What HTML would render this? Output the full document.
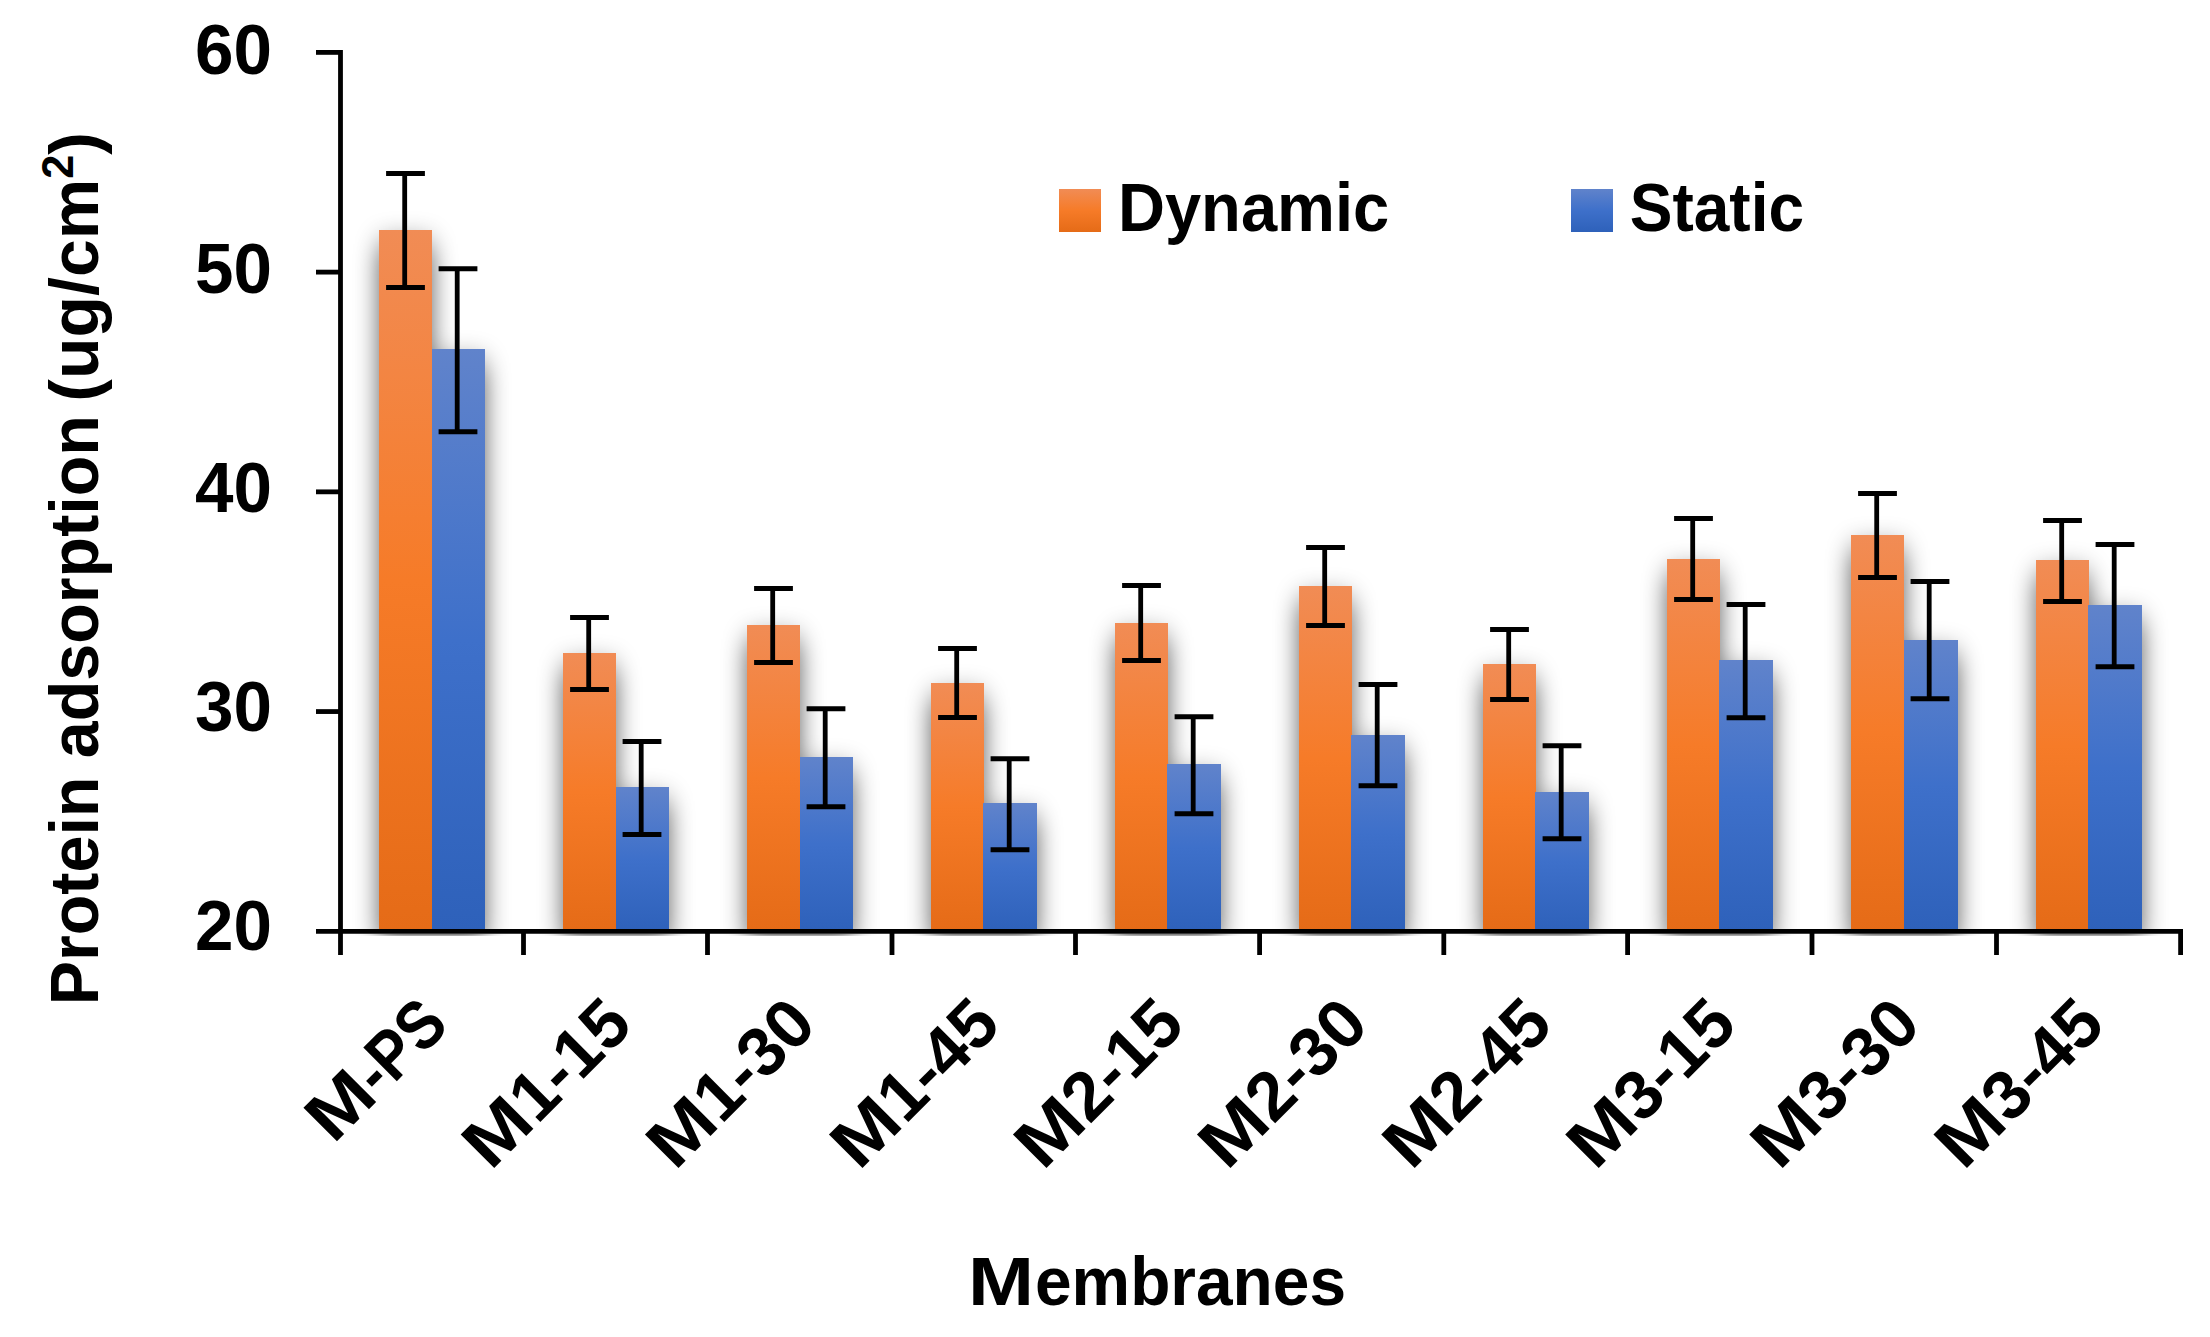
<!DOCTYPE html>
<html lang="en"><head><meta charset="utf-8"><title>Protein adsorption of membranes</title>
<style>
html,body{margin:0;padding:0;background:#fff;}
body{width:2210px;height:1337px;overflow:hidden;}
svg{display:block;}
text{font-family:"Liberation Sans", Arial, Helvetica, sans-serif;font-weight:700;font-size:69px;fill:#000;}
</style></head><body>
<svg width="2210" height="1337" viewBox="0 0 2210 1337">
<defs>
<linearGradient id="go" x1="0" y1="0" x2="0" y2="1"><stop offset="0" stop-color="#F18C55"/><stop offset=".5" stop-color="#F67B28"/><stop offset="1" stop-color="#E56B17"/></linearGradient>
<linearGradient id="gb" x1="0" y1="0" x2="0" y2="1"><stop offset="0" stop-color="#6083CB"/><stop offset=".5" stop-color="#3E70CA"/><stop offset="1" stop-color="#2E61BA"/></linearGradient>
<filter id="sh" filterUnits="userSpaceOnUse" x="0" y="0" width="2210" height="1337"><feGaussianBlur stdDeviation="12.5 15"/></filter>
<clipPath id="pc"><rect x="0" y="0" width="2210" height="929"/><rect x="0" y="933.7" width="2210" height="2"/></clipPath>
</defs>
<rect width="2210" height="1337" fill="#fff"/>
<g clip-path="url(#pc)"><g filter="url(#sh)" opacity="0.63" transform="translate(0,14)"><rect x="379.00" y="230" width="53" height="701.30"/><rect x="431" y="349" width="54" height="582.30"/><rect x="563.00" y="653" width="53" height="278.30"/><rect x="615" y="787" width="54" height="144.30"/><rect x="747.00" y="625" width="53" height="306.30"/><rect x="799" y="757" width="54" height="174.30"/><rect x="931.00" y="683" width="53" height="248.30"/><rect x="983" y="803" width="54" height="128.30"/><rect x="1115.00" y="623" width="53" height="308.30"/><rect x="1167" y="764" width="54" height="167.30"/><rect x="1299.00" y="586" width="53" height="345.30"/><rect x="1351" y="735" width="54" height="196.30"/><rect x="1483.00" y="664" width="53" height="267.30"/><rect x="1535" y="792" width="54" height="139.30"/><rect x="1667.00" y="559" width="53" height="372.30"/><rect x="1719" y="660" width="54" height="271.30"/><rect x="1851.00" y="535" width="53" height="396.30"/><rect x="1903" y="640" width="55" height="291.30"/><rect x="2036.00" y="560" width="53" height="371.30"/><rect x="2088" y="605" width="54" height="326.30"/></g></g>
<g><rect x="379.00" y="230" width="53" height="701.30" fill="url(#go)"/><rect x="432" y="349" width="53" height="582.30" fill="url(#gb)"/><rect x="563.00" y="653" width="53" height="278.30" fill="url(#go)"/><rect x="616" y="787" width="53" height="144.30" fill="url(#gb)"/><rect x="747.00" y="625" width="53" height="306.30" fill="url(#go)"/><rect x="800" y="757" width="53" height="174.30" fill="url(#gb)"/><rect x="931.00" y="683" width="53" height="248.30" fill="url(#go)"/><rect x="983" y="803" width="54" height="128.30" fill="url(#gb)"/><rect x="1115.00" y="623" width="53" height="308.30" fill="url(#go)"/><rect x="1167" y="764" width="54" height="167.30" fill="url(#gb)"/><rect x="1299.00" y="586" width="53" height="345.30" fill="url(#go)"/><rect x="1351" y="735" width="54" height="196.30" fill="url(#gb)"/><rect x="1483.00" y="664" width="53" height="267.30" fill="url(#go)"/><rect x="1535" y="792" width="54" height="139.30" fill="url(#gb)"/><rect x="1667.00" y="559" width="53" height="372.30" fill="url(#go)"/><rect x="1719" y="660" width="54" height="271.30" fill="url(#gb)"/><rect x="1851.00" y="535" width="53" height="396.30" fill="url(#go)"/><rect x="1904" y="640" width="54" height="291.30" fill="url(#gb)"/><rect x="2036.00" y="560" width="53" height="371.30" fill="url(#go)"/><rect x="2088" y="605" width="54" height="326.30" fill="url(#gb)"/></g>
<g stroke="#000" stroke-width="4.8" fill="none"><path d="M386.10 173.5H424.90M386.10 287.5H424.90M404.70 173.5V287.5"/><path d="M438.60 268.75H477.40M438.60 431.75H477.40M457.20 268.75V431.75"/><path d="M570.10 617.5H608.90M570.10 689.5H608.90M588.70 617.5V689.5"/><path d="M622.60 741.5H661.40M622.60 834.5H661.40M641.20 741.5V834.5"/><path d="M754.10 588.5H792.90M754.10 662.5H792.90M772.70 588.5V662.5"/><path d="M806.60 708.75H845.40M806.60 806.75H845.40M825.20 708.75V806.75"/><path d="M938.10 648.5H976.90M938.10 717.5H976.90M956.70 648.5V717.5"/><path d="M990.60 758.75H1029.40M990.60 849.75H1029.40M1009.20 758.75V849.75"/><path d="M1122.10 585.5H1160.90M1122.10 660.5H1160.90M1140.70 585.5V660.5"/><path d="M1174.60 716.75H1213.40M1174.60 813.75H1213.40M1193.20 716.75V813.75"/><path d="M1306.10 547.5H1344.90M1306.10 625.5H1344.90M1324.70 547.5V625.5"/><path d="M1358.60 684.5H1397.40M1358.60 785.75H1397.40M1377.20 684.5V785.75"/><path d="M1490.10 629.5H1528.90M1490.10 699.5H1528.90M1508.70 629.5V699.5"/><path d="M1542.60 745.75H1581.40M1542.60 838.75H1581.40M1561.20 745.75V838.75"/><path d="M1674.10 518.5H1712.90M1674.10 599.5H1712.90M1692.70 518.5V599.5"/><path d="M1726.60 604.5H1765.40M1726.60 717.75H1765.40M1745.20 604.5V717.75"/><path d="M1858.10 493.5H1896.90M1858.10 577.5H1896.90M1876.70 493.5V577.5"/><path d="M1910.60 581.5H1949.40M1910.60 698.75H1949.40M1929.20 581.5V698.75"/><path d="M2043.10 520.5H2081.90M2043.10 601.5H2081.90M2061.70 520.5V601.5"/><path d="M2095.60 544.5H2134.40M2095.60 666.75H2134.40M2114.20 544.5V666.75"/></g>
<g stroke="#000" stroke-width="4.8" fill="none"><path d="M340.5 50V955"/><path d="M316 931.3H2183"/><path d="M316 52.40H340.5"/><path d="M316 272.12H340.5"/><path d="M316 491.84H340.5"/><path d="M316 711.56H340.5"/><path d="M523.50 931.3V955"/><path d="M707.50 931.3V955"/><path d="M892.00 931.3V955"/><path d="M1075.50 931.3V955"/><path d="M1259.60 931.3V955"/><path d="M1443.80 931.3V955"/><path d="M1627.60 931.3V955"/><path d="M1812.00 931.3V955"/><path d="M1996.50 931.3V955"/><path d="M2180.60 931.3V955"/></g>
<text x="272" y="73.6" style="font-size:70.5px" text-anchor="end" textLength="77" lengthAdjust="spacingAndGlyphs">60</text><text x="272" y="292.6" style="font-size:70.5px" text-anchor="end" textLength="77" lengthAdjust="spacingAndGlyphs">50</text><text x="272" y="511.7" style="font-size:70.5px" text-anchor="end" textLength="77" lengthAdjust="spacingAndGlyphs">40</text><text x="272" y="730.8" style="font-size:70.5px" text-anchor="end" textLength="77" lengthAdjust="spacingAndGlyphs">30</text><text x="272" y="949.8" style="font-size:70.5px" text-anchor="end" textLength="77" lengthAdjust="spacingAndGlyphs">20</text>
<text transform="translate(98,1005.3) rotate(-90)" textLength="590.1" lengthAdjust="spacingAndGlyphs">Protein adsorption</text><text transform="translate(98,401.7) rotate(-90)" textLength="269.6" lengthAdjust="spacingAndGlyphs">(ug/cm<tspan font-size="44" dy="-25">2</tspan><tspan dy="25">)</tspan></text>
<text transform="translate(450.7,1027.5) rotate(-45)"><tspan x="-166.0" textLength="66.0" lengthAdjust="spacingAndGlyphs">M</tspan><tspan x="-100.0" textLength="100.0" lengthAdjust="spacingAndGlyphs">-PS</tspan></text><text transform="translate(634.8,1027.5) rotate(-45)"><tspan x="-204.0" textLength="66.0" lengthAdjust="spacingAndGlyphs">M</tspan><tspan x="-138.0" textLength="138.0" lengthAdjust="spacingAndGlyphs">1-15</tspan></text><text transform="translate(818.9,1027.5) rotate(-45)"><tspan x="-204.0" textLength="66.0" lengthAdjust="spacingAndGlyphs">M</tspan><tspan x="-138.0" textLength="138.0" lengthAdjust="spacingAndGlyphs">1-30</tspan></text><text transform="translate(1002.9,1027.5) rotate(-45)"><tspan x="-204.0" textLength="66.0" lengthAdjust="spacingAndGlyphs">M</tspan><tspan x="-138.0" textLength="138.0" lengthAdjust="spacingAndGlyphs">1-45</tspan></text><text transform="translate(1187.0,1027.5) rotate(-45)"><tspan x="-204.0" textLength="66.0" lengthAdjust="spacingAndGlyphs">M</tspan><tspan x="-138.0" textLength="138.0" lengthAdjust="spacingAndGlyphs">2-15</tspan></text><text transform="translate(1371.1,1027.5) rotate(-45)"><tspan x="-204.0" textLength="66.0" lengthAdjust="spacingAndGlyphs">M</tspan><tspan x="-138.0" textLength="138.0" lengthAdjust="spacingAndGlyphs">2-30</tspan></text><text transform="translate(1555.2,1027.5) rotate(-45)"><tspan x="-204.0" textLength="66.0" lengthAdjust="spacingAndGlyphs">M</tspan><tspan x="-138.0" textLength="138.0" lengthAdjust="spacingAndGlyphs">2-45</tspan></text><text transform="translate(1739.3,1027.5) rotate(-45)"><tspan x="-204.0" textLength="66.0" lengthAdjust="spacingAndGlyphs">M</tspan><tspan x="-138.0" textLength="138.0" lengthAdjust="spacingAndGlyphs">3-15</tspan></text><text transform="translate(1923.3,1027.5) rotate(-45)"><tspan x="-204.0" textLength="66.0" lengthAdjust="spacingAndGlyphs">M</tspan><tspan x="-138.0" textLength="138.0" lengthAdjust="spacingAndGlyphs">3-30</tspan></text><text transform="translate(2107.4,1027.5) rotate(-45)"><tspan x="-204.0" textLength="66.0" lengthAdjust="spacingAndGlyphs">M</tspan><tspan x="-138.0" textLength="138.0" lengthAdjust="spacingAndGlyphs">3-45</tspan></text>
<text y="1304.7"><tspan x="968.1" textLength="66" lengthAdjust="spacingAndGlyphs">M</tspan><tspan x="1035" textLength="311" lengthAdjust="spacingAndGlyphs">embranes</tspan></text>
<rect x="1059" y="189" width="42" height="43" fill="url(#go)"/><text x="1117.9" y="230.8" textLength="271.4" lengthAdjust="spacingAndGlyphs">Dynamic</text><rect x="1571" y="189" width="42" height="43" fill="url(#gb)"/><text x="1629.7" y="231" textLength="174.4" lengthAdjust="spacingAndGlyphs">Static</text>
</svg></body></html>
